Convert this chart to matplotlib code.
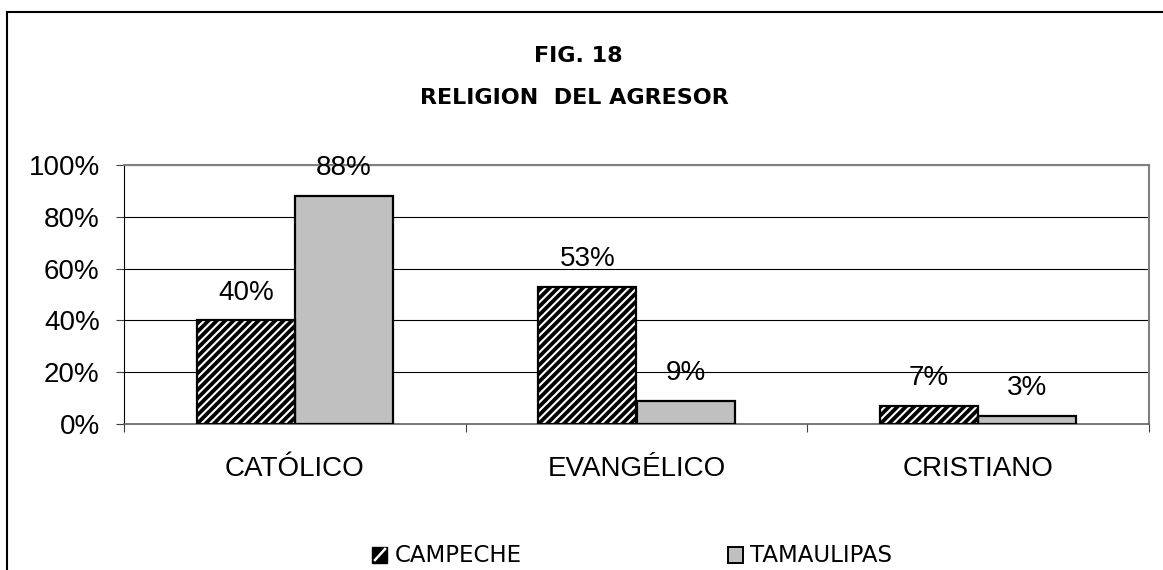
import matplotlib
matplotlib.use("Agg")
import matplotlib.pyplot as plt
from matplotlib.patches import Rectangle
from matplotlib.lines import Line2D
from matplotlib.ticker import FuncFormatter, MultipleLocator

categories = ["CATÓLICO", "EVANGÉLICO", "CRISTIANO"]
campeche = [40, 53, 7]
tamaulipas = [88, 9, 3]
series_names = ["CAMPECHE", "TAMAULIPAS"]
title_lines = ["FIG. 18", "RELIGION  DEL AGRESOR"]

plt.rcParams['hatch.linewidth'] = 1.5
plt.rcParams['font.family'] = ['Liberation Sans', 'DejaVu Sans']

W, H = 1163, 570
fig = plt.figure(figsize=(W/100, H/100), dpi=100)
ax = fig.add_axes([124/W, 1-424/H, (1149-124)/W, (424-165)/H])

# outer chart frame
fig.patches.append(Rectangle((7/W, -0.1), 1.2, 1 - 12/H + 0.1, transform=fig.transFigure,
                             fill=False, edgecolor='black', linewidth=1.5, clip_on=False))

w = 0.287
x = list(range(len(categories)))
xc = [i - w/2 for i in x]
xt = [i + w/2 for i in x]
camp_frac = [v/100 for v in campeche]
tam_frac = [v/100 for v in tamaulipas]

ax.bar(xc, camp_frac, width=w, facecolor='black', edgecolor='white', linewidth=0, hatch='////', zorder=3)
ax.bar(xc, camp_frac, width=w, fill=False, edgecolor='black', linewidth=1.6, zorder=4)
ax.bar(xt, tam_frac, width=w, facecolor='#c0c0c0', edgecolor='black', linewidth=1.6, zorder=3)

for xs, vals in ((xc, campeche), (xt, tamaulipas)):
    for xi, v in zip(xs, vals):
        ax.annotate(f"{v}%", (xi, v/100), xytext=(0, 20), textcoords='offset points',
                    ha='center', va='center', fontsize=20)

ax.set_xlim(-0.5, 2.5)
ax.set_ylim(0, 1)
ax.yaxis.set_major_locator(MultipleLocator(0.2))
ax.yaxis.set_major_formatter(FuncFormatter(lambda v, p: f"{int(round(v*100))}%"))
ax.grid(axis='y', color='black', linewidth=0.8, zorder=0)
ax.set_axisbelow(True)

ax.set_xticks([-0.5, 0.5, 1.5, 2.5])
ax.set_xticklabels([])
ax.set_xticks(x, minor=True)
ax.set_xticklabels(categories, minor=True)
ax.tick_params(axis='x', which='major', direction='out', length=6, color='#404040')
ax.tick_params(axis='x', which='minor', length=0, pad=23, labelsize=20)
ax.tick_params(axis='y', direction='out', length=6, labelsize=20, pad=11.5, color='#404040')

for s in ['top', 'right']:
    ax.spines[s].set_color('#808080')
    ax.spines[s].set_linewidth(1.5)
ax.spines['left'].set_color('black')
ax.spines['bottom'].set_color('#606060')
ax.spines['bottom'].set_linewidth(1.2)

fig.text(578/W, 1-56/H, title_lines[0], ha='center', va='center', fontsize=16,
         fontweight='bold', family=['DejaVu Sans'])
fig.text(574/W, 1-98/H, title_lines[1], ha='center', va='center', fontsize=16,
         fontweight='bold', family=['DejaVu Sans'])

# legend (manual)
ly = 555
fig.patches.append(Rectangle((372/W, 1-(ly+8)/H), 15/W, 16/H, transform=fig.transFigure,
                             facecolor='black', edgecolor='black', linewidth=1))
fig.lines.append(Line2D([375/W, 385/W], [1-(ly+5)/H, 1-(ly-6)/H], transform=fig.transFigure,
                        color='white', linewidth=1.8))
fig.text(395/W, 1-ly/H, series_names[0], ha='left', va='center', fontsize=16.5,
         family=['DejaVu Sans'])
fig.patches.append(Rectangle((728/W, 1-(ly+8)/H), 15/W, 16/H, transform=fig.transFigure,
                             facecolor='#c0c0c0', edgecolor='black', linewidth=1.4))
fig.text(750/W, 1-ly/H, series_names[1], ha='left', va='center', fontsize=16.5,
         family=['DejaVu Sans'])

fig.savefig("out.png", dpi=100, facecolor='white')
